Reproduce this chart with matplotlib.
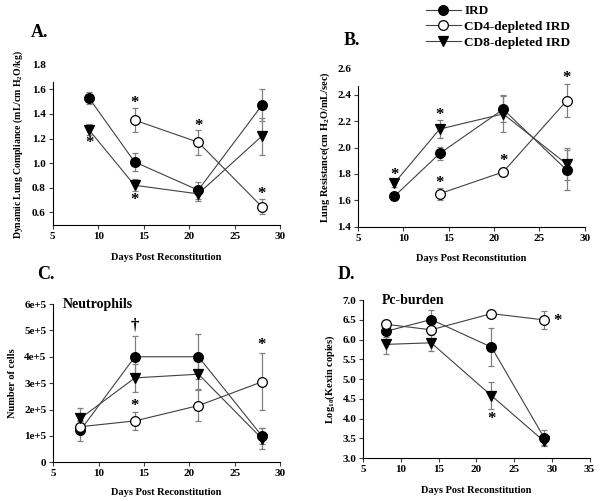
import matplotlib
matplotlib.use("Agg")
import matplotlib.pyplot as plt
from matplotlib.lines import Line2D

plt.rcParams['font.family'] = ['Liberation Serif', 'DejaVu Serif']
plt.rcParams['font.weight'] = 'bold'
plt.rcParams['mathtext.fontset'] = 'custom'
plt.rcParams['mathtext.rm'] = 'Liberation Serif:bold'
plt.rcParams['mathtext.it'] = 'Liberation Serif:bold'
plt.rcParams['mathtext.bf'] = 'Liberation Serif:bold'

# ---------------- data ----------------
labels = ['IRD', 'CD4-depleted IRD', 'CD8-depleted IRD']

# A. dynamic lung compliance
a_days = [9, 14, 21, 28]
a_days_cd4 = [14, 21, 28]
a_ird = [1.53, 1.01, 0.78, 1.47]
a_ird_err = [0.05, 0.07, 0.07, 0.13]
a_cd4 = [1.35, 1.17, 0.645]
a_cd4_err = [0.10, 0.10, 0.06]
a_cd8 = [1.27, 0.82, 0.75, 1.22]
a_cd8_err = [0.045, 0.05, 0.06, 0.15]
a_stars = [(9, 1.16), (14, 1.49), (14, 0.70), (21, 1.30), (28, 0.75)]

# B. lung resistance
b_days = [9, 14, 21, 28]
b_days_cd4 = [14, 21, 28]
b_ird = [1.63, 1.955, 2.29, 1.83]
b_ird_err = [0.015, 0.05, 0.10, 0.15]
b_cd4 = [1.65, 1.815, 2.355]
b_cd4_err = [0.045, 0.03, 0.125]
b_cd8 = [1.73, 2.14, 2.255, 1.875]
b_cd8_err = [0.03, 0.065, 0.14, 0.12]
b_stars = [(9, 1.79), (14, 2.25), (14, 1.73), (21, 1.90), (28, 2.53)]

# C. neutrophils
c_days = [8, 14, 21, 28]
c_ird = [1.22e5, 4.0e5, 4.0e5, 1.0e5]
c_ird_err = [0.4e5, 0.8e5, 0.86e5, 0.3e5]
c_cd4 = [1.35e5, 1.57e5, 2.15e5, 3.05e5]
c_cd4_err = [0.2e5, 0.34e5, 0.6e5, 1.08e5]
c_cd8 = [1.67e5, 3.2e5, 3.34e5, 0.9e5]
c_cd8_err = [0.4e5, 0.53e5, 0.56e5, 0.4e5]
c_marks = [(14, 5.2e5, '†'), (14, 2.15e5, '*'), (28, 4.45e5, '*')]

# D. Pc-burden
d_days = [8, 14, 22, 29]
d_ird = [6.21, 6.51, 5.81, 3.51]
d_ird_err = [0.14, 0.25, 0.49, 0.2]
d_cd4 = [6.39, 6.25, 6.66, 6.5]
d_cd4_err = [0.08, 0.1, 0.05, 0.22]
d_cd8 = [5.88, 5.92, 4.58, 3.42]
d_cd8_err = [0.25, 0.2, 0.35, 0.1]
d_stars = [(30.7, 6.48), (22, 3.98)]

line_col = '#404040'
err_col = '#808080'
styles = [dict(marker='o', mfc='black', mec='black'),
          dict(marker='o', mfc='white', mec='black'),
          dict(marker='v', mfc='black', mec='black')]


def draw_series(ax, x, y, err, st):
    ax.errorbar(x, y, yerr=err, fmt='none', ecolor=err_col, elinewidth=0.9,
                capsize=2.5, capthick=0.9, zorder=2)
    ax.plot(x, y, color=line_col, lw=0.8, ms=7, mew=0.9, zorder=3, **st)


def style_axes(ax):
    ax.spines['top'].set_visible(False)
    ax.spines['right'].set_visible(False)
    ax.tick_params(direction='out', length=3, width=0.8, labelsize=8,
                   color='#404040', pad=2)
    for t in ax.get_xticklabels() + ax.get_yticklabels():
        t.set_fontweight('bold')


fig = plt.figure(figsize=(6.0, 5.01), dpi=100)

# ---------------- A ----------------
axA = fig.add_axes([0.0878, 0.5517, 0.379, 0.319])
draw_series(axA, a_days, a_ird, a_ird_err, styles[0])
draw_series(axA, a_days_cd4, a_cd4, a_cd4_err, styles[1])
draw_series(axA, a_days, a_cd8, a_cd8_err, styles[2])
for x, y in a_stars:
    axA.text(x, y, '*', ha='center', va='center', fontsize=12)
axA.set_xlim(5, 30)
axA.set_ylim(0.5, 1.8)
axA.set_xticks([5, 10, 15, 20, 25, 30])
axA.set_yticks([0.6, 0.8, 1.0, 1.2, 1.4, 1.6, 1.8])
axA.set_yticklabels(['0.6', '0.8', '1.0', '1.2', '1.4', '1.6', '1.8'])
axA.spines['left'].set_bounds(0.5, 1.66)
axA.yaxis.get_major_ticks()[-1].tick1line.set_visible(False)
axA.set_ylabel('Dynamic Lung Compliance (mL/cm H$_2$O/kg)', fontsize=7,
               fontweight='bold', labelpad=5)
axA.set_xlabel('Days Post Reconstitution', fontsize=7.5, fontweight='bold',
               labelpad=9)
style_axes(axA)
fig.text(0.052, 0.935, 'A.', fontsize=13, fontweight='bold', va='center')

# ---------------- B ----------------
axB = fig.add_axes([0.5967, 0.5475, 0.378, 0.316])
draw_series(axB, b_days, b_ird, b_ird_err, styles[0])
draw_series(axB, b_days_cd4, b_cd4, b_cd4_err, styles[1])
draw_series(axB, b_days, b_cd8, b_cd8_err, styles[2])
for x, y in b_stars:
    axB.text(x, y, '*', ha='center', va='center', fontsize=12)
axB.set_xlim(5, 30)
axB.set_ylim(1.4, 2.6)
axB.set_xticks([5, 10, 15, 20, 25, 30])
axB.set_yticks([1.4, 1.6, 1.8, 2.0, 2.2, 2.4, 2.6])
axB.set_yticklabels(['1.4', '1.6', '1.8', '2.0', '2.2', '2.4', '2.6'])
axB.spines['left'].set_bounds(1.4, 2.47)
axB.yaxis.get_major_ticks()[-1].tick1line.set_visible(False)
axB.set_ylabel('Lung Resistance(cm H$_2$O/mL/sec)', fontsize=7.5,
               fontweight='bold', labelpad=4)
axB.set_xlabel('Days Post Reconstitution', fontsize=7.5, fontweight='bold',
               labelpad=8)
style_axes(axB)
fig.text(0.572, 0.92, 'B.', fontsize=13, fontweight='bold', va='center')

# legend
handles = [Line2D([], [], color=line_col, lw=0.8, ms=7, mew=0.9, **st)
           for st in styles]
fig.legend(handles, labels, loc='upper left', bbox_to_anchor=(0.695, 1.008),
           frameon=False, prop=dict(family='Liberation Serif', weight='bold',
                                    size=9.5),
           handlelength=2.6, handletextpad=0.3, labelspacing=0.25,
           borderpad=0.2)

# ---------------- C ----------------
axC = fig.add_axes([0.0888, 0.0772, 0.378, 0.316])
draw_series(axC, c_days, c_ird, c_ird_err, styles[0])
draw_series(axC, c_days, c_cd4, c_cd4_err, styles[1])
draw_series(axC, c_days, c_cd8, c_cd8_err, styles[2])
for x, y, s in c_marks:
    axC.text(x, y, s, ha='center', va='center', fontsize=12)
axC.set_xlim(5, 30)
axC.set_ylim(0, 6e5)
axC.set_xticks([5, 10, 15, 20, 25, 30])
axC.set_yticks([0, 1e5, 2e5, 3e5, 4e5, 5e5, 6e5])
axC.set_yticklabels(['0', '1e+5', '2e+5', '3e+5', '4e+5', '5e+5', '6e+5'])
axC.set_ylabel('Number of cells', fontsize=7.5, fontweight='bold', labelpad=5)
axC.set_xlabel('Days Post Reconstitution', fontsize=7.5, fontweight='bold',
               labelpad=7)
axC.text(0.04, 1.0, 'Neutrophils', transform=axC.transAxes, fontsize=10,
         fontweight='bold', va='center')
style_axes(axC)
fig.text(0.062, 0.452, 'C.', fontsize=13, fontweight='bold', va='center')

# ---------------- D ----------------
axD = fig.add_axes([0.6055, 0.0858, 0.377, 0.315])
draw_series(axD, d_days, d_ird, d_ird_err, styles[0])
draw_series(axD, d_days, d_cd4, d_cd4_err, styles[1])
draw_series(axD, d_days, d_cd8, d_cd8_err, styles[2])
for x, y in d_stars:
    axD.text(x, y, '*', ha='center', va='center', fontsize=12)
axD.set_xlim(5, 35)
axD.set_ylim(3.0, 7.0)
axD.set_xticks([5, 10, 15, 20, 25, 30, 35])
axD.set_yticks([3.0, 3.5, 4.0, 4.5, 5.0, 5.5, 6.0, 6.5, 7.0])
axD.set_yticklabels(['3.0', '3.5', '4.0', '4.5', '5.0', '5.5', '6.0', '6.5',
                     '7.0'])
axD.set_ylabel('Log$_{10}$(Kexin copies)', fontsize=7.5, fontweight='bold',
               labelpad=4)
axD.set_xlabel('Days Post Reconstitution', fontsize=7.5, fontweight='bold',
               labelpad=9)
axD.text(0.08, 1.0, 'Pc-burden', transform=axD.transAxes, fontsize=10,
         fontweight='bold', va='center')
style_axes(axD)
fig.text(0.562, 0.452, 'D.', fontsize=13, fontweight='bold', va='center')

fig.savefig('out.png', dpi=100)
